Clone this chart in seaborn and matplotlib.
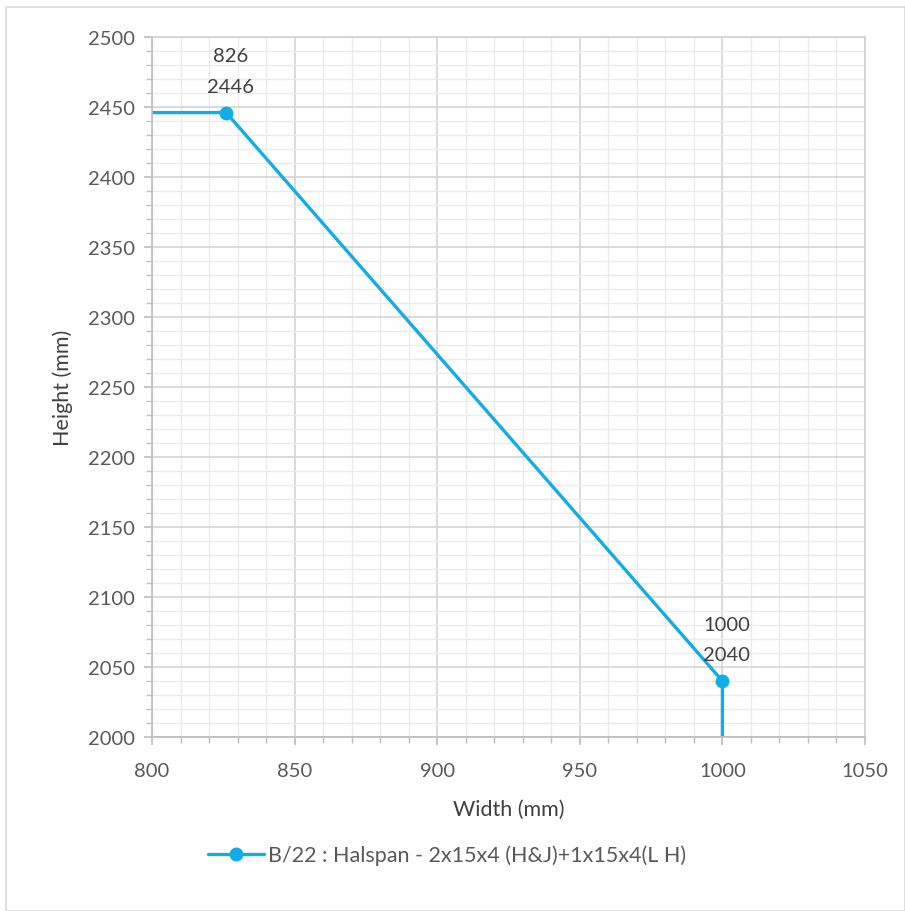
import matplotlib
matplotlib.use("Agg")
import matplotlib.pyplot as plt
import seaborn as sns
import pandas as pd
from matplotlib.ticker import MultipleLocator
from matplotlib.patches import Rectangle

# ===================== 数据 =====================
width_mm = [800, 826, 1000, 1000]
height_mm = [2446, 2446, 2040, 2000]
marked_points = [1, 2]
series_name = "B/22 : Halspan - 2x15x4 (H&J)+1x15x4(L H)"

df = pd.DataFrame({"Width (mm)": width_mm, "Height (mm)": height_mm})

sns.set_theme(style="white")
plt.rcParams['font.family'] = ['Lato', 'DejaVu Sans']

line_color = "#12ADE6"
text_color = "#404040"

fig = plt.figure(figsize=(9.05, 9.12), dpi=100)
ax = fig.add_axes([152 / 905, 1 - 738 / 912, (865 - 152) / 905, (738 - 38) / 912])

# 外框
fig.patches.append(Rectangle((6 / 905, 0), 1 - 6 / 905, 1 - 8 / 912, transform=fig.transFigure,
                             fill=False, edgecolor="#D9D9D9", linewidth=1.2))

# estimator=None: 不对重复的 x 求均值
sns.lineplot(data=df, x="Width (mm)", y="Height (mm)", sort=False, estimator=None, ax=ax,
             color=line_color, linewidth=2.4, marker="o", markersize=10,
             markevery=marked_points, markeredgewidth=0, label=series_name)

ax.set_xlim(800, 1050)
ax.set_ylim(2000, 2500)
ax.xaxis.set_major_locator(MultipleLocator(50))
ax.yaxis.set_major_locator(MultipleLocator(50))
ax.xaxis.set_minor_locator(MultipleLocator(10))
ax.yaxis.set_minor_locator(MultipleLocator(10))
ax.grid(which="major", color="#D4D4D4", linewidth=1.2)
ax.grid(which="minor", color="#EBEBEB", linewidth=1.0)
ax.set_axisbelow(True)

for s in ax.spines.values():
    s.set_color("#D4D4D4")
ax.spines["left"].set_color("#BFBFBF")
ax.spines["bottom"].set_color("#BFBFBF")

ax.tick_params(which="both", left=True, bottom=True, color="#BFBFBF", labelcolor="#595959")
ax.tick_params(which="major", length=6, labelsize=14.5)
ax.tick_params(axis="x", which="major", pad=12)
ax.tick_params(axis="y", which="major", pad=6)
ax.tick_params(which="minor", length=4)

ax.set_xlabel("Width (mm)", fontsize=15.5, color=text_color, labelpad=14)
ax.set_ylabel("Height (mm)", fontsize=15.5, color=text_color, labelpad=11)

# 数据标签
for i in marked_points:
    ax.annotate(f"{width_mm[i]}\n{height_mm[i]}", (width_mm[i], height_mm[i]),
                xytext=(3, 13), textcoords="offset points", ha="center", va="bottom",
                fontsize=14.5, color=text_color, linespacing=1.95)

leg = ax.legend(loc="upper center", bbox_to_anchor=(0.414, -0.126), frameon=False,
                fontsize=15.5, handlelength=2.6, handletextpad=0.2, labelcolor="#595959")

fig.savefig("out.png", dpi=100)
